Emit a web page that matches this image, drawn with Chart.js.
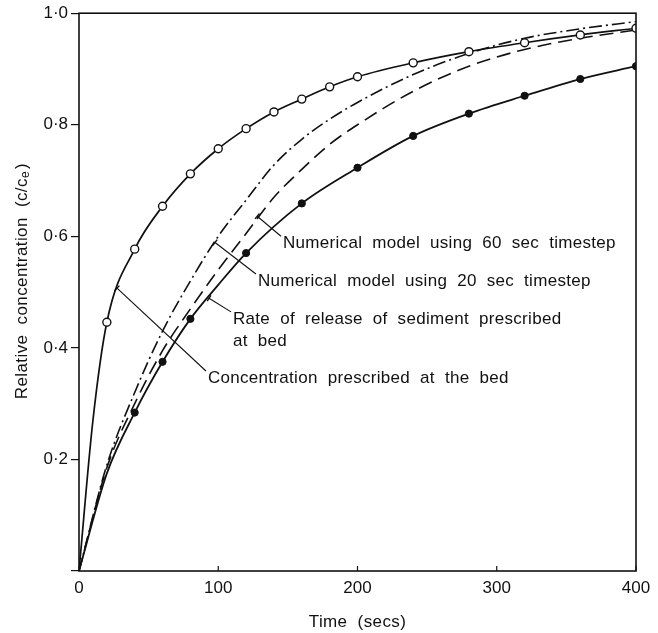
<!DOCTYPE html>
<html>
<head>
<meta charset="utf-8">
<script src="https://cdn.jsdelivr.net/npm/chart.js@4"></script>
<style>
html,body{margin:0;padding:0;background:#fff;}
#wrap{width:658px;height:633px;position:relative;}
</style>
</head>
<body>
<div id="wrap"><canvas id="c" width="658" height="633"></canvas></div>
<script>
// ---- data ----
const xTickLabels = ['0', '100', '200', '300', '400'];
const yTickLabels = ['', '0·2', '0·4', '0·6', '0·8', '1·0'];

// Concentration prescribed at the bed (open circles)
const concX = [0, 10, 20, 40, 60, 80, 100, 120, 140, 160, 180, 200, 240, 280, 320, 360, 400];
const concY = [0, 0.27, 0.446, 0.577, 0.654, 0.712, 0.757, 0.793, 0.823, 0.846, 0.868, 0.886, 0.911, 0.931, 0.947, 0.961, 0.973];
const concMarkerX = [20, 40, 60, 80, 100, 120, 140, 160, 180, 200, 240, 280, 320, 360, 400];

// Rate of release of sediment prescribed at bed (filled circles)
const rateX = [0, 20, 40, 60, 80, 100, 120, 160, 200, 240, 280, 320, 360, 400];
const rateY = [0, 0.175, 0.284, 0.375, 0.452, 0.513, 0.570, 0.659, 0.723, 0.780, 0.820, 0.852, 0.882, 0.905];
const rateMarkerX = [40, 60, 80, 120, 160, 200, 240, 280, 320, 360, 400];

// Numerical models
const numX = [0, 20, 40, 60, 80, 100, 120, 140, 160, 180, 200, 240, 280, 320, 360, 400];
const num20Y = [0, 0.19, 0.32, 0.43, 0.52, 0.60, 0.665, 0.728, 0.774, 0.81, 0.84, 0.89, 0.928, 0.955, 0.972, 0.985];
const num60Y = [0, 0.185, 0.30, 0.395, 0.47, 0.54, 0.605, 0.67, 0.72, 0.765, 0.80, 0.86, 0.905, 0.935, 0.955, 0.97];

// annotation texts and where they sit / point to (data units)
const labelTexts = [
  ['Numerical model using 60 sec timestep'],
  ['Numerical model using 20 sec timestep'],
  ['Rate of release of sediment prescribed', 'at bed'],
  ['Concentration prescribed at the bed']
];
const labelAtX = [146.5, 128.5, 110.6, 92.6];
const labelAtY = [0.5875, 0.520, 0.452, 0.346];
const pointToX = [128, 97.7, 93.4, 27.3];
const pointToY = [0.636, 0.589, 0.489, 0.507];

const xTitle = 'Time (secs)';
const yTitleMain = 'Relative concentration (c/c';
const yTitleSub = 'e';
const yTitleEnd = ')';

// ---- build ----
const INK = '#111';
const FONT = '"Liberation Sans", Arial, Helvetica, sans-serif';
const zip = (xs, ys) => xs.map((x, i) => ({x: x, y: ys[i]}));
const markerRadius = (list, r) => (ctx) => {
  const p = ctx.raw;
  return p && list.includes(p.x) ? r : 0;
};

const frameAndExtras = {
  id: 'frameAndExtras',
  afterDatasetsDraw(chart) {
    const {ctx, chartArea: a, scales: {x, y}} = chart;
    ctx.save();
    // frame
    ctx.strokeStyle = INK;
    ctx.lineWidth = 1.6;
    ctx.strokeRect(a.left, a.top, a.right - a.left, a.bottom - a.top);
    // inward x ticks
    ctx.lineWidth = 1.2;
    x.ticks.forEach(t => {
      const px = x.getPixelForValue(t.value);
      ctx.beginPath();
      ctx.moveTo(px, a.bottom);
      ctx.lineTo(px, a.bottom - 5);
      ctx.stroke();
    });
    // annotations
    ctx.fillStyle = INK;
    ctx.font = '17px ' + FONT;
    ctx.textBaseline = 'middle';
    ctx.textAlign = 'left';
    try { ctx.letterSpacing = '0.3px'; ctx.wordSpacing = '5px'; } catch (e) {}
    labelTexts.forEach((lines, i) => {
      const tx = x.getPixelForValue(labelAtX[i]);
      const ty = y.getPixelForValue(labelAtY[i]);
      lines.forEach((ln, j) => ctx.fillText(ln, tx, ty + j * 22));
      const sx = tx - 2, sy = ty - 7;
      const ex = x.getPixelForValue(pointToX[i]);
      const ey = y.getPixelForValue(pointToY[i]);
      ctx.lineWidth = 1.1;
      ctx.beginPath();
      ctx.moveTo(sx, sy);
      ctx.lineTo(ex, ey);
      ctx.stroke();
      // small tick across the curve at the leader end
      const dx = ex - sx, dy = ey - sy, L = Math.hypot(dx, dy);
      const nx = -dy / L * 3.5, ny = dx / L * 3.5;
      ctx.lineWidth = 1.4;
      ctx.beginPath();
      ctx.moveTo(ex - nx, ey - ny);
      ctx.lineTo(ex + nx, ey + ny);
      ctx.stroke();
    });
    // x title
    try { ctx.wordSpacing = '5px'; ctx.letterSpacing = '0.4px'; } catch (e) {}
    ctx.textAlign = 'center';
    ctx.fillText(xTitle, (a.left + a.right) / 2, 622);
    // y title (rotated, with subscript)
    ctx.translate(22, (a.top + a.bottom) / 2 - 11);
    ctx.rotate(-Math.PI / 2);
    try { ctx.wordSpacing = '5px'; ctx.letterSpacing = '0.4px'; } catch (e) {}
    ctx.font = '17px ' + FONT;
    const w1 = ctx.measureText(yTitleMain).width;
    ctx.font = '12px ' + FONT;
    const w2 = ctx.measureText(yTitleSub).width;
    ctx.font = '17px ' + FONT;
    const w3 = ctx.measureText(yTitleEnd).width;
    const total = w1 + w2 + w3 + 2;
    let cx = -total / 2;
    ctx.textAlign = 'left';
    ctx.fillText(yTitleMain, cx, 0);
    cx += w1;
    ctx.font = '12px ' + FONT;
    ctx.fillText(yTitleSub, cx, 4);
    cx += w2 + 2;
    ctx.font = '17px ' + FONT;
    ctx.fillText(yTitleEnd, cx, 0);
    ctx.restore();
  }
};

new Chart(document.getElementById('c'), {
  type: 'line',
  data: {
    datasets: [
      {
        label: 'Concentration prescribed at the bed',
        data: zip(concX, concY),
        borderColor: INK, borderWidth: 1.7,
        pointRadius: markerRadius(concMarkerX, 4),
        pointBackgroundColor: '#fff', pointBorderColor: INK, pointBorderWidth: 1.4,
        cubicInterpolationMode: 'monotone', fill: false, order: 0
      },
      {
        label: 'Rate of release of sediment prescribed at bed',
        data: zip(rateX, rateY),
        borderColor: INK, borderWidth: 1.8,
        pointRadius: markerRadius(rateMarkerX, 3.6),
        pointBackgroundColor: INK, pointBorderColor: INK, pointBorderWidth: 1,
        cubicInterpolationMode: 'monotone', fill: false, order: 1
      },
      {
        label: 'Numerical model using 20 sec timestep',
        data: zip(numX, num20Y),
        borderColor: INK, borderWidth: 1.6,
        borderDash: [13, 4, 2, 4],
        pointRadius: 0,
        cubicInterpolationMode: 'monotone', fill: false, order: 2
      },
      {
        label: 'Numerical model using 60 sec timestep',
        data: zip(numX, num60Y),
        borderColor: INK, borderWidth: 1.6,
        borderDash: [14, 7],
        pointRadius: 0,
        cubicInterpolationMode: 'monotone', fill: false, order: 3
      }
    ]
  },
  options: {
    responsive: false,
    animation: false,
    devicePixelRatio: 1,
    layout: {padding: {left: 0, right: 22, top: 11, bottom: 0}},
    plugins: {legend: {display: false}, tooltip: {enabled: false}},
    scales: {
      x: {
        type: 'linear', min: 0, max: 400,
        afterFit(s) { s.height = 62; },
        afterBuildTicks(s) { s.ticks = xTickLabels.map(v => ({value: Number(v)})); },
        grid: {display: false, drawTicks: false},
        border: {display: false},
        ticks: {
          color: INK, padding: 7, maxRotation: 0,
          font: {family: FONT, size: 17},
          callback: (v) => xTickLabels[xTickLabels.indexOf(String(v))]
        }
      },
      y: {
        type: 'linear', min: 0, max: 1,
        afterFit(s) { s.width = 79; },
        afterBuildTicks(s) { s.ticks = yTickLabels.map((_, i) => ({value: i * 0.2})); },
        grid: {drawOnChartArea: false, drawTicks: true, tickLength: 8, color: INK, lineWidth: 1.2},
        border: {display: false},
        ticks: {
          color: INK, padding: 3,
          font: {family: FONT, size: 17},
          callback: (v, i) => yTickLabels[i]
        }
      }
    }
  },
  plugins: [frameAndExtras]
});
</script>
</body>
</html>
